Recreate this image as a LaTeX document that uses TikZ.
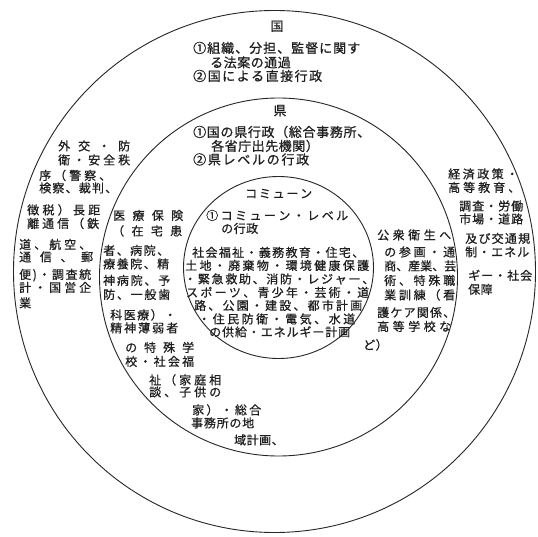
\documentclass[tikz,border=0pt]{standalone}
\usepackage{fontspec}
\newfontfamily\jp[LetterSpace=4,FakeBold=0.7]{Noto Sans CJK JP}
\def\mygobble#1{}
\def\spreadA#1#2{#1\ifx\relax#2\expandafter\mygobble\else\hskip 0pt plus 1fil\expandafter\spreadA\fi#2}
\def\spreadchars#1{\spreadA#1\relax}
\newcommand\jline[5]{\node[txt] (#1) at (#2,#3) {\hbox to #4pt{\spreadchars{#5}}};}
\newcommand\jbig[5]{\node[big] (#1) at (#2,#3) {\hbox to #4pt{\spreadchars{#5}}};}
\newcommand\jnat[4]{\node[txt] (#1) at (#2,#3) {#4};}
\newcommand\jnatb[4]{\node[big] (#1) at (#2,#3) {#4};}
\begin{document}
\begin{tikzpicture}[x=1pt,y=-1pt,
  ring/.style={line width=0.9pt, draw=black!85},
  txt/.style={anchor=west, inner sep=0pt, text=black!88, font=\jp\fontsize{12}{12}\selectfont, text height=10.5pt, text depth=1.5pt},
  big/.style={txt, font=\jp\fontsize{13}{13}\selectfont, text height=11.4pt, text depth=1.6pt}]
\useasboundingbox (0,0) rectangle (538,537);
\fill[white] (0,0) rectangle (538,537);
\coordinate (co) at (274.5,271.5);
\coordinate (cm) at (278.5,277);
\coordinate (ci) at (278.5,267.5);
\draw[ring] (co) circle[radius=261pt];
\draw[ring] (cm) circle[radius=179pt];
\draw[ring] (ci) ellipse[x radius=95pt, y radius=91pt];
% national
\node[big,anchor=center] (kuni) at (277,26) {国};
\jbig{k1}{193}{48}{167}{①組織、分担、監督に関す}
\jnatb{k2}{210}{62.5}{る法案の通過}
\jbig{k3}{193}{76}{129}{②国による直接行政}
% prefecture
\node[big,anchor=center] (ken) at (280,110.5) {県};
\jbig{p1}{193}{132}{177}{①国の県行政（総合事務所、}
\jnatb{p2}{211}{146}{各省庁出先機関）}
\jbig{p3}{193}{159.5}{116}{②県レベルの行政}
% commune
\jline{com}{245}{193.5}{67}{コミューン}
\jline{c1}{206}{215.5}{142}{①コミューン・レベル}
\jnat{c2}{221}{228.5}{の行政}
\jline{c3}{192}{252.5}{172}{社会福祉・義務教育・住宅、}
\jline{c4}{185}{265.5}{184}{土地・廃棄物・環境健康保護}
\jline{c5}{184}{279}{190}{・緊急救助、消防・レジャー、}
\jline{c6}{186}{292.5}{183}{スポーツ、青少年・芸術・道}
\jline{c7}{194}{305.5}{168}{路、公園・建設、都市計画}
\jline{c8}{198}{319}{157}{・住民防衛・電気、水道}
\jline{c9}{209}{332}{141}{の供給・エネルギー計画}
% left outer
\jline{a1}{58}{146}{72}{外交・防}
\jline{a2}{58}{160}{72}{衛・安全秩}
\jline{a3}{39}{175.5}{72}{序（警察、}
\jline{a4}{39}{188}{78}{検察、裁判、}
\jline{a5}{27}{210}{73}{徴税）長距}
\jline{a6}{27}{223.5}{72}{離通信（鉄}
\jline{a7}{19}{244.5}{72}{道、航空、}
\jline{a8}{19}{257}{74}{通信、郵}
\jline{a9}{19}{274.5}{72}{便)・調査統}
\jline{a10}{19}{287.5}{72}{計・国営企}
\jnat{a11}{19}{303}{業}
% middle left
\jline{b1}{113}{215.5}{70}{医療保険}
\jline{b2}{112}{231}{70}{（在宅患}
\jline{b3}{103}{250.5}{66}{者、病院、}
\jline{b4}{103}{264}{66}{療養院、精}
\jline{b5}{103}{280.5}{67}{神病院、予}
\jline{b6}{103}{294.5}{67}{防、一般歯}
\jline{b7}{110}{315}{66}{科医療）・}
\jline{b8}{110}{328}{68}{精神薄弱者}
\jline{b9}{125}{347.5}{69}{の特殊学}
\jline{b10}{125}{361.5}{69}{校・社会福}
\jline{b11}{149}{380}{72}{祉（家庭相}
\jline{b12}{149}{392}{72}{談、子供の}
\jline{b13}{192}{410}{69}{家）・総合}
\jline{b14}{191}{423}{63}{事務所の地}
\jnat{b15}{234}{440}{域計画、}
% middle right
\jline{r1}{377}{235}{74}{公衆衛生へ}
\jline{r2}{384}{252}{71}{の参画・通}
\jline{r3}{384}{266}{71}{商、産業、芸}
\jline{r4}{384}{280.5}{71}{術、特殊職}
\jline{r5}{384}{295}{71}{業訓練（看}
\jline{r6}{377}{312.5}{78}{護ケア関係、}
\jline{r7}{377}{326.5}{74}{高等学校な}
\jnat{r8}{363}{345}{ど）}
% right outer
\jline{o1}{448}{174}{70}{経済政策・}
\jline{o2}{448}{187.5}{72}{高等教育、}
\jline{o3}{459}{206}{64}{調査・労働}
\jline{o4}{459}{219}{64}{市場・道路}
\jline{o5}{465}{238.5}{65}{及び交通規}
\jline{o6}{465}{252}{64}{制・エネル}
\jline{o7}{468}{275.5}{64}{ギー・社会}
\jnat{o8}{468}{289.5}{保障}
\end{tikzpicture}
\end{document}
